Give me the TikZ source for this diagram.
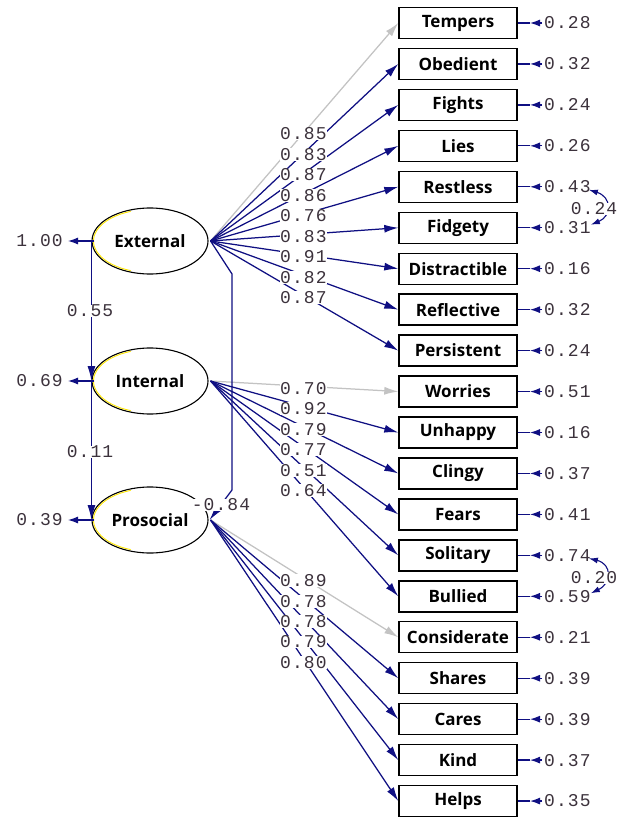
\documentclass[tikz,border=0pt]{standalone}
\usepackage{fontspec}
\setmainfont{Open Sans}
\newfontfamily\numfont[LetterSpace=6]{Liberation Mono}
\usetikzlibrary{arrows.meta,shapes.geometric,calc}
\definecolor{navy}{RGB}{15,15,130}
\definecolor{lgrey}{RGB}{195,195,195}
\definecolor{numcol}{RGB}{60,50,60}
\begin{document}
\begin{tikzpicture}[x=1pt,y=-1pt,
  obs/.style={draw=black, line width=1.4pt, minimum width=118pt, minimum height=31pt,
    inner sep=0pt, fill=white, font=\fontsize{17}{20}\selectfont\bfseries},
  lat/.style={ellipse, draw=black, line width=1.1pt, minimum width=116pt, minimum height=66pt,
    inner sep=0pt, font=\fontsize{17}{20}\selectfont\bfseries},
  num/.style={inner sep=0pt, text=numcol, font=\numfont\fontsize{18}{20}\selectfont},
  lab/.style={num, fill=white, inner sep=0.3pt},
  load/.style={line width=1.25pt, -{Latex[length=14pt,width=8pt]}},
  thin/.style={navy, line width=1.25pt},
  tipl/.style={navy, line width=1.25pt, -{Latex[length=10pt,width=7pt]}},
  cov/.style={navy, line width=1.25pt, -{Latex[length=15pt,width=8pt]}},
  ecov/.style={navy, line width=1.1pt, {Latex[length=9pt,width=6pt]}-{Latex[length=9pt,width=6pt]}}
]
\useasboundingbox (0,0) rectangle (626,818);
\fill[white] (0,0) rectangle (626,818);

% latent variables
\node[lat] (ext) at (150,241) {External};
\node[lat] (int) at (150,381) {Internal};
\node[lat] (pro) at (150,520) {Prosocial};
\foreach \cy in {241,381,520}
  \draw[yellow!90!orange, line width=0.9pt] (150,\cy) ++(110:56.5 and 31.5) arc[start angle=110, end angle=250, x radius=56.5, y radius=31.5];

% observed variables and error terms
\foreach \i/\t/\e in {1/Tempers/0.28, 2/Obedient/0.32, 3/Fights/0.24, 4/Lies/0.26,
  5/Restless/0.43, 6/Fidgety/0.31, 7/Distractible/0.16, 8/Reflective/0.32,
  9/Persistent/0.24, 10/Worries/0.51, 11/Unhappy/0.16, 12/Clingy/0.37,
  13/Fears/0.41, 14/Solitary/0.74, 15/Bullied/0.59, 16/Considerate/0.21,
  17/Shares/0.39, 18/Cares/0.39, 19/Kind/0.37, 20/Helps/0.35} {
  \pgfmathsetmacro\yy{23+40.95*(\i-1)}
  \node[obs] (b\i) at (458,\yy) {\t};
  \node[num, anchor=west] (e\i) at (544,\yy) {\e};
  \draw[thin] ([xshift=-14pt]e\i.west) -- (b\i.east);
  \draw[tipl] ([xshift=-2pt]e\i.west) -- ([xshift=-14pt]e\i.west);
}

% loadings
\foreach \s/\i/\c in {ext/1/lgrey, ext/2/navy, ext/3/navy, ext/4/navy, ext/5/navy,
  ext/6/navy, ext/7/navy, ext/8/navy, ext/9/navy,
  int/10/lgrey, int/11/navy, int/12/navy, int/13/navy, int/14/navy, int/15/navy,
  pro/16/lgrey, pro/17/navy, pro/18/navy, pro/19/navy, pro/20/navy}
  \draw[load, draw=\c] ([xshift=2pt]\s.east) -- (b\i.west);

% covariances between latent variables
\draw[thin, -{Latex[length=15pt,width=8pt]}] ([xshift=2pt]ext.east) -- (232,274) -- (232,490) -- ([xshift=1pt]pro.east);
\draw[cov] (ext.west) -- (int.west);
\draw[cov] (int.west) -- (pro.west);
\node[lab] (c55) at (90,311) {0.55};
\node[lab] (c11) at (90,452) {0.11};
\node[lab] (c84) at (221,505) {-0.84};

% variances of latent variables
\node[num, anchor=east] (v1) at (63,241) {1.00};
\node[num, anchor=east] (v2) at (63,381) {0.69};
\node[num, anchor=east] (v3) at (63,520) {0.39};
\foreach \v/\l in {v1/ext, v2/int, v3/pro} {
  \draw[thin] ([xshift=19pt]\v.east) -- (\l.west);
  \draw[tipl] ([xshift=31pt]\v.east) -- ([xshift=5pt]\v.east);
}

% loading labels
\foreach \s/\i/\v in {ext/1/0.85, ext/2/0.83, ext/3/0.87, ext/4/0.86, ext/5/0.76,
  ext/6/0.83, ext/7/0.91, ext/8/0.82, ext/9/0.87,
  int/10/0.70, int/11/0.92, int/12/0.79, int/13/0.77, int/14/0.51, int/15/0.64,
  pro/16/0.89, pro/17/0.78, pro/18/0.78, pro/19/0.79, pro/20/0.80}
  \node[lab] (l\i) at ($([yshift=-2pt]\s.east)!0.5!([yshift=-2pt]b\i.west)$) {\v};

% correlated errors
\draw[ecov] ([xshift=-2pt,yshift=-3pt]e5.east) .. controls (612,197) and (612,216) .. ([yshift=3pt]e6.east);
\node[lab] (r1) at (594,209) {0.24};
\draw[ecov] ([xshift=-2pt,yshift=-3pt]e14.east) .. controls (612,564) and (612,583) .. ([yshift=3pt]e15.east);
\node[lab] (r2) at (594,578) {0.20};
\end{tikzpicture}
\end{document}
